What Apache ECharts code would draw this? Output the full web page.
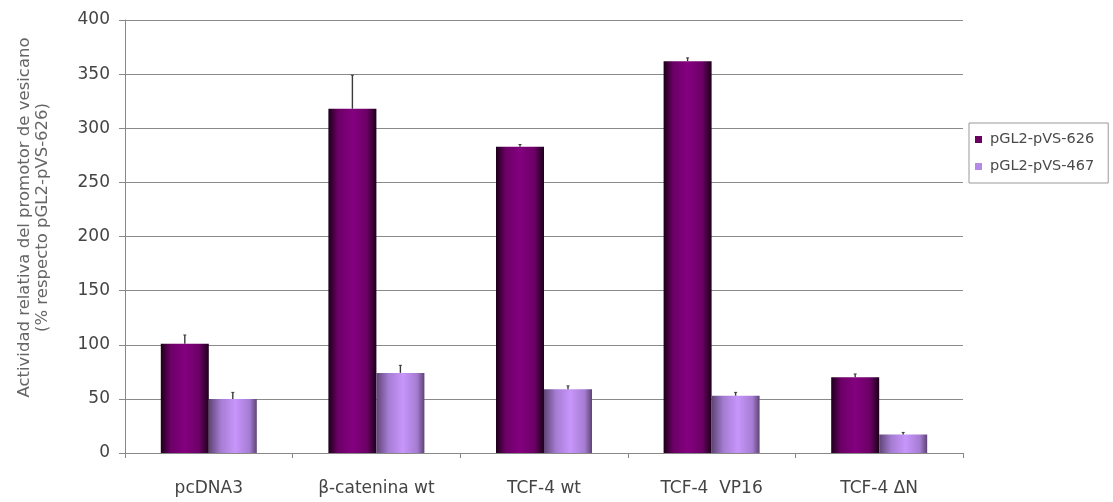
<!DOCTYPE html>
<html>
<head>
<meta charset="utf-8">
<script src="https://cdn.jsdelivr.net/npm/echarts@6/dist/echarts.min.js"></script>
<style>
html,body{margin:0;padding:0;background:#fff;}
#chart{width:1113px;height:502px;}
</style>
</head>
<body>
<div id="chart"></div>
<script>
const categories = ['pcDNA3', 'β-catenina wt', 'TCF-4 wt', 'TCF-4  VP16', 'TCF-4 ΔN'];
const seriesNames = ['pGL2-pVS-626', 'pGL2-pVS-467'];
const values626 = [101, 318, 283, 362, 70];
const errors626 = [8, 31, 2, 3, 3];
const values467 = [50, 74, 59, 53, 17];
const errors467 = [6, 7, 3, 3, 2];
const yTicks = [0, 50, 100, 150, 200, 250, 300, 350, 400];

const FONT = '"DejaVu Sans", Verdana, sans-serif';
const BAR_W = 48;

const darkGrad = new echarts.graphic.LinearGradient(0, 0, 1, 0, [
  {offset: 0, color: '#1c0019'},
  {offset: 0.2, color: '#6c0066'},
  {offset: 0.5, color: '#840080'},
  {offset: 0.8, color: '#6c0066'},
  {offset: 1, color: '#1c0019'}
]);
const lightGrad = new echarts.graphic.LinearGradient(0, 0, 1, 0, [
  {offset: 0, color: '#5e4474'},
  {offset: 0.25, color: '#a57cd2'},
  {offset: 0.55, color: '#c796fb'},
  {offset: 0.85, color: '#a57cd2'},
  {offset: 1, color: '#5e4474'}
]);

function errData(vals, errs) {
  return vals.map((v, i) => [i, v, errs[i]]);
}
function errRender(offset) {
  return function (params, api) {
    const idx = api.value(0);
    const v = api.value(1);
    const e = api.value(2);
    const top = api.coord([idx, v + e]);
    const base = api.coord([idx, v]);
    const x = top[0] + offset;
    return {
      type: 'group',
      children: [
        {type: 'line', shape: {x1: x, y1: top[1], x2: x, y2: base[1]},
         style: {stroke: '#3a3a3a', lineWidth: 1.4}},
        {type: 'line', shape: {x1: x - 1.5, y1: top[1], x2: x + 1.5, y2: top[1]},
         style: {stroke: '#3a3a3a', lineWidth: 1}}
      ]
    };
  };
}

const chart = echarts.init(document.getElementById('chart'), null, {renderer: 'canvas'});
chart.setOption({
  backgroundColor: '#ffffff',
  animation: false,
  textStyle: {fontFamily: FONT},
  grid: {left: 125, right: 150, top: 20, bottom: 49},
  legend: {
    orient: 'vertical',
    left: 969,
    top: 123,
    data: [
      {name: seriesNames[0], itemStyle: {color: '#6a0060'}},
      {name: seriesNames[1], itemStyle: {color: '#b48ae8'}}
    ],
    icon: 'rect',
    itemWidth: 7,
    itemHeight: 7,
    itemGap: 12,
    padding: [9, 14, 9, 6],
    borderColor: '#999',
    borderWidth: 1,
    textStyle: {fontSize: 14.5, color: '#4a4a4a', fontFamily: FONT, padding: [0, 0, 0, 3]}
  },
  xAxis: {
    type: 'category',
    data: categories,
    axisLine: {lineStyle: {color: '#888', width: 1}},
    axisTick: {show: true, length: 5, lineStyle: {color: '#888'}},
    axisLabel: {fontSize: 17, color: '#444', margin: 27, fontFamily: FONT}
  },
  yAxis: {
    type: 'value',
    min: yTicks[0],
    max: yTicks[yTicks.length - 1],
    interval: 50,
    name: 'Actividad relativa del promotor de vesicano\n(% respecto pGL2-pVS-626)',
    nameLocation: 'middle',
    nameGap: 73,
    nameTextStyle: {fontSize: 16.5, color: '#666', lineHeight: 18, fontFamily: FONT, padding: [0, 0, 0, 38]},
    axisLine: {show: true, lineStyle: {color: '#888', width: 1}},
    axisTick: {show: true, length: 6, lineStyle: {color: '#888'}},
    axisLabel: {fontSize: 17, color: '#444', margin: 15, fontFamily: FONT},
    splitLine: {show: true, lineStyle: {color: '#8a8a8a', width: 1.2}}
  },
  series: [
    {
      name: seriesNames[0],
      type: 'bar',
      data: values626,
      barWidth: BAR_W,
      barGap: '0%',
      itemStyle: {color: darkGrad}
    },
    {
      name: seriesNames[1],
      type: 'bar',
      data: values467,
      barWidth: BAR_W,
      barGap: '0%',
      itemStyle: {color: lightGrad}
    },
    {
      type: 'custom',
      name: 'err626',
      data: errData(values626, errors626),
      renderItem: errRender(-BAR_W / 2),
      encode: {x: 0, y: 1},
      z: 10
    },
    {
      type: 'custom',
      name: 'err467',
      data: errData(values467, errors467),
      renderItem: errRender(BAR_W / 2),
      encode: {x: 0, y: 1},
      z: 10
    }
  ]
});
</script>
</body>
</html>
